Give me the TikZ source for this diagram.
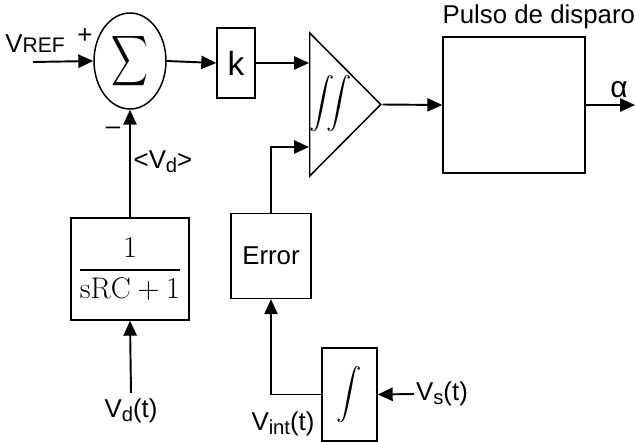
\documentclass[tikz,border=0pt]{standalone}
\usepackage{amsmath}
\usepackage{graphicx}
\usepackage{fontspec}
\setmainfont{Liberation Sans}
\setmathrm{Latin Modern Roman}
\usetikzlibrary{shapes.geometric, arrows.meta, positioning, calc}
\newcommand{\lowsub}[1]{\raisebox{-0.3ex}{\fontsize{11.5}{13}\selectfont #1}}
\tikzset{
  block/.style={rectangle, draw=black, line width=0.85pt, fill=white,
                inner sep=0pt, align=center},
  sumnode/.style={ellipse, draw=black, line width=0.85pt, inner sep=0pt,
                  minimum width=1.44cm, minimum height=1.92cm},
  amp/.style={isosceles triangle, isosceles triangle stretches, draw=black,
              line width=0.85pt, shape border rotate=0, inner sep=0pt,
              minimum width=2.86cm, minimum height=1.42cm, anchor=lower side},
  arrow/.style={-{Triangle[length=8.5pt, width=7.5pt]}, line width=1.1pt, draw=black},
  sig/.style={inner sep=1pt},
}

\begin{document}
\begin{tikzpicture}[x=0.02cm, y=-0.02cm, font=\fontsize{14.7}{17}\selectfont]
  \useasboundingbox (0,0) rectangle (635,442);

  % forward path
  \node[sumnode] (sum) at (130,61) {\resizebox*{21pt}{32pt}{$\displaystyle\sum$}};
  \node[block, minimum width=0.76cm, minimum height=1.4cm] (k) at (236,63)
    {\fontsize{19}{20}\selectfont k};
  \node[amp] (tri) at (309,104.5) {};
  \node (iint) at (331,104) {$\displaystyle\iint$};
  \node[block, minimum width=2.84cm, minimum height=2.72cm] (pulso) at (514,105) {};
  \node[anchor=south west, inner sep=0pt] (pulsolbl)
    at ([yshift=4pt]pulso.north west) {Pulso de disparo};

  \node[sig] (vref) at (35,44) {V{\fontsize{12}{13}\selectfont REF}};
  \coordinate (vrefin) at (33,62);
  \node (plus) at (85,36) {+};
  \node (minus) at (113,131) {–};
  \coordinate (alphaout) at (635,105);
  \node (alpha) at (619,90) {\fontsize{17}{18}\selectfont α};

  \draw[arrow] (vrefin) -- (sum.west);
  \draw[arrow] (sum.east) -- (k.west);
  \draw[arrow] (k.east) -- (k.east -| tri.lower side);
  \draw[arrow] (tri.apex) -- (pulso.west);
  \draw[arrow] (pulso.east) -- (alphaout);

  % feedback of <Vd>
  \node[block, minimum width=2.36cm, minimum height=2.04cm] (tf) at (130,269)
    {\fontsize{17}{20}\selectfont$\dfrac{1}{\mathrm{sRC}+1}$};
  \node[sig] (vdavg) at (163,162) {<V\lowsub{d}>};
  \node (vd) at (131,411) {V\lowsub{d}(t)};

  \draw[arrow] (tf.north) -- (sum.south);
  \draw[arrow] (vd.north) -- (tf.south);

  % error branch
  \node[block, minimum width=1.6cm, minimum height=1.7cm] (err) at (271,256) {Error};
  \coordinate (in2) at (309,147);
  \node[block, minimum width=1.1cm, minimum height=1.86cm] (int) at (349.5,394.5)
    {$\displaystyle\int$};
  \node[sig] (vs) at (442,394) {V\lowsub{s}(t)};
  \node[sig] (vint) at (283,424) {V\lowsub{int}(t)};

  \draw[arrow] (err.north) |- (in2);
  \draw[arrow] (vs.west) -- (int.east);
  \draw[arrow] (int.west) -| (err.south);
\end{tikzpicture}
\end{document}
